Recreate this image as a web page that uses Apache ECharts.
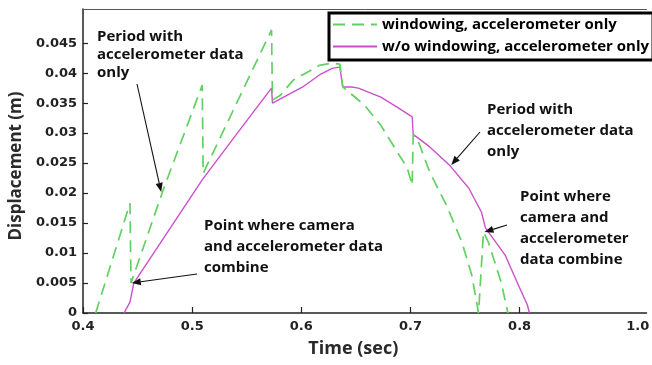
<!DOCTYPE html>
<html>
<head>
<meta charset="utf-8">
<script src="https://cdn.jsdelivr.net/npm/echarts@6/dist/echarts.min.js"></script>
<style>
  html, body { margin: 0; padding: 0; background: #fff; }
  #chart { width: 652px; height: 365px; }
</style>
</head>
<body>
<div id="chart"></div>
<script>
// Displacement (m) against time (sec), two reconstructions of the same motion.
const seriesNames = ['windowing, accelerometer only', 'w/o windowing, accelerometer only'];

// windowing, accelerometer only (dashed green)
const windowTime = [0.4116, 0.4430, 0.4440, 0.4734, 0.5092, 0.5101, 0.5727, 0.5736, 0.5808, 0.5924,
  0.6166, 0.6282, 0.6353, 0.6371, 0.6380, 0.6398, 0.6577, 0.6729, 0.6881, 0.6971, 0.7016,
  0.7025, 0.7060, 0.7177, 0.7329, 0.7472, 0.7562, 0.7624, 0.7669, 0.7714, 0.7830, 0.7893];
const windowDisp = [0, 0.0183, 0.0050, 0.0205, 0.0380, 0.0233, 0.0472, 0.0355, 0.0363, 0.0388,
  0.0413, 0.0417, 0.0415, 0.0413, 0.0377, 0.0375, 0.0347, 0.0313, 0.0268, 0.0242, 0.0213,
  0.0297, 0.0292, 0.0235, 0.0180, 0.0118, 0.0063, 0, 0.0135, 0.0118, 0.0052, 0];

// w/o windowing, accelerometer only (solid magenta)
const plainTime = [0.4376, 0.4430, 0.4465, 0.5092, 0.5414, 0.5727, 0.5736, 0.6013, 0.6166, 0.6282,
  0.6353, 0.6371, 0.6380, 0.6461, 0.6523, 0.6729, 0.6881, 0.7016, 0.7025, 0.7177, 0.7356,
  0.7535, 0.7651, 0.7687, 0.7866, 0.8000, 0.8072, 0.8090];
const plainDisp = [0, 0.0018, 0.0050, 0.0222, 0.0300, 0.0375, 0.0350, 0.0377, 0.0397, 0.0408,
  0.0410, 0.0410, 0.0377, 0.0377, 0.0375, 0.0360, 0.0343, 0.0327, 0.0298, 0.0277, 0.0247,
  0.0208, 0.0168, 0.0142, 0.0097, 0.0042, 0.0013, 0];

// axis ticks and their labels
const yTickValues = [0, 0.005, 0.01, 0.015, 0.02, 0.025, 0.03, 0.035, 0.04, 0.045];
const yTickLabels = ['0', '0.005', '0.01', '0.015', '0.02', '0.025', '0.03', '0.035', '0.04', '0.045'];
const xTickValues = [0.4, 0.5, 0.6, 0.7, 0.8];
const xLabelValues = [0.4, 0.5, 0.6, 0.7, 0.8, 0.9];
const xTickLabels = ['0.4', '0.5', '0.6', '0.7', '0.8', '1.0'];

// callouts: text block, arrow tail (px) and the point on the curve the arrow meets
const notes = [
  { text: 'Period with\naccelerometer data\nonly', x: 97, y: 28, lh: 18, tail: [137, 84], tip: [0.4716, 0.0202] },
  { text: 'Point where camera\nand accelerometer data\ncombine', x: 204, y: 215, lh: 21, tail: [197, 274], tip: [0.4447, 0.0050] },
  { text: 'Period with\naccelerometer data\nonly', x: 487, y: 99, lh: 21, tail: [480, 132], tip: [0.7374, 0.0247] },
  { text: 'Point where\ncamera and\naccelerometer\ndata combine', x: 520, y: 186, lh: 21, tail: [507, 225], tip: [0.7678, 0.0135] }
];

const zip = (xs, ys) => xs.map((x, i) => [x, ys[i]]);
const labelOf = (vals, labs) => v => {
  const i = vals.findIndex(t => Math.abs(t - v) < 1e-9);
  return i < 0 ? '' : labs[i];
};

const tickFont = { fontFamily: 'DejaVu Sans', fontWeight: 'bold', fontSize: 13, color: '#222' };
const titleFont = { fontFamily: 'Open Sans', fontWeight: 'bold', fontSize: 17, color: '#2a2a2a' };

const chart = echarts.init(document.getElementById('chart'), null, { renderer: 'canvas' });

chart.setOption({
  animation: false,
  backgroundColor: '#fff',
  grid: { left: 75, right: 0, top: 9, bottom: 52, containLabel: false },
  legend: {
    left: 329, top: 13, orient: 'vertical',
    itemWidth: 44, itemHeight: 14, itemGap: 7,
    padding: [4, 4, 6, 3],
    borderColor: '#000', borderWidth: 3, backgroundColor: '#fff',
    itemStyle: { opacity: 0 },
    textStyle: { fontFamily: 'Open Sans', fontWeight: 'bold', fontSize: 15, color: '#000' },
    data: seriesNames
  },
  xAxis: [{
    type: 'value', min: 0.4, max: 0.9163,
    name: 'Time (sec)', nameLocation: 'middle', nameGap: 27,
    nameTextStyle: Object.assign({}, titleFont, { fontSize: 18, padding: [0, 23, 0, 0] }),
    axisLine: { show: true, lineStyle: { color: '#222', width: 1.5 } },
    axisTick: { show: true, inside: true, length: 6, customValues: xTickValues, lineStyle: { color: '#222', width: 1.2 } },
    axisLabel: Object.assign({}, tickFont, {
      margin: 7, customValues: xLabelValues,
      formatter: v => {
        const s = labelOf(xLabelValues, xTickLabels)(v);
        return Math.abs(v - 0.9) < 1e-9 ? '{e|' + s + '}' : s;
      },
      rich: { e: Object.assign({}, tickFont, { padding: [0, 0, 0, 18] }) }
    }),
    splitLine: { show: false }
  }, {
    type: 'value', position: 'top', min: 0.4, max: 0.9163,
    axisLine: { show: true, lineStyle: { color: '#555', width: 1 } },
    axisTick: { show: false }, axisLabel: { show: false }, splitLine: { show: false }
  }],
  yAxis: {
    type: 'value', min: 0, max: 0.0507,
    name: 'Displacement (m)', nameLocation: 'middle', nameGap: 43, nameRotate: 90,
    nameTextStyle: Object.assign({}, titleFont, { padding: [0, 10, 0, 0] }),
    axisLine: { show: true, lineStyle: { color: '#222', width: 1.5 } },
    axisTick: { show: true, inside: true, length: 5, customValues: yTickValues, lineStyle: { color: '#222', width: 1.2 } },
    axisLabel: Object.assign({}, tickFont, {
      margin: 6, customValues: yTickValues, formatter: labelOf(yTickValues, yTickLabels)
    }),
    splitLine: { show: false }
  },
  series: [{
    name: seriesNames[0], type: 'line', symbol: 'none', z: 3,
    lineStyle: { color: '#62d062', width: 1.7, type: [12, 7] },
    itemStyle: { color: '#62d062' },
    data: zip(windowTime, windowDisp)
  }, {
    name: seriesNames[1], type: 'line', symbol: 'none', z: 2,
    lineStyle: { color: '#cc4fcc', width: 1.4 },
    itemStyle: { color: '#cc4fcc' },
    data: zip(plainTime, plainDisp)
  }]
});

// callout texts and arrows
const elements = [];
notes.forEach(n => {
  const tip = chart.convertToPixel({ gridIndex: 0 }, n.tip);
  const [x0, y0] = n.tail;
  const dx = tip[0] - x0, dy = tip[1] - y0;
  const len = Math.hypot(dx, dy);
  const ux = dx / len, uy = dy / len;
  const headLen = 9, headHalf = 3.6;
  const bx = tip[0] - ux * headLen, by = tip[1] - uy * headLen;
  elements.push({
    type: 'text', z: 10,
    style: {
      text: n.text, x: n.x, y: n.y, fill: '#111',
      fontFamily: 'Open Sans', fontWeight: 'bold', fontSize: 15,
      lineHeight: n.lh, verticalAlign: 'top', align: 'left'
    }
  });
  elements.push({
    type: 'line', z: 10,
    shape: { x1: x0, y1: y0, x2: bx, y2: by },
    style: { stroke: '#111', lineWidth: 1.1 }
  });
  elements.push({
    type: 'polygon', z: 10,
    shape: { points: [[tip[0], tip[1]], [bx - uy * headHalf, by + ux * headHalf], [bx + uy * headHalf, by - ux * headHalf]] },
    style: { fill: '#111' }
  });
});
chart.setOption({ graphic: elements });
</script>
</body>
</html>
